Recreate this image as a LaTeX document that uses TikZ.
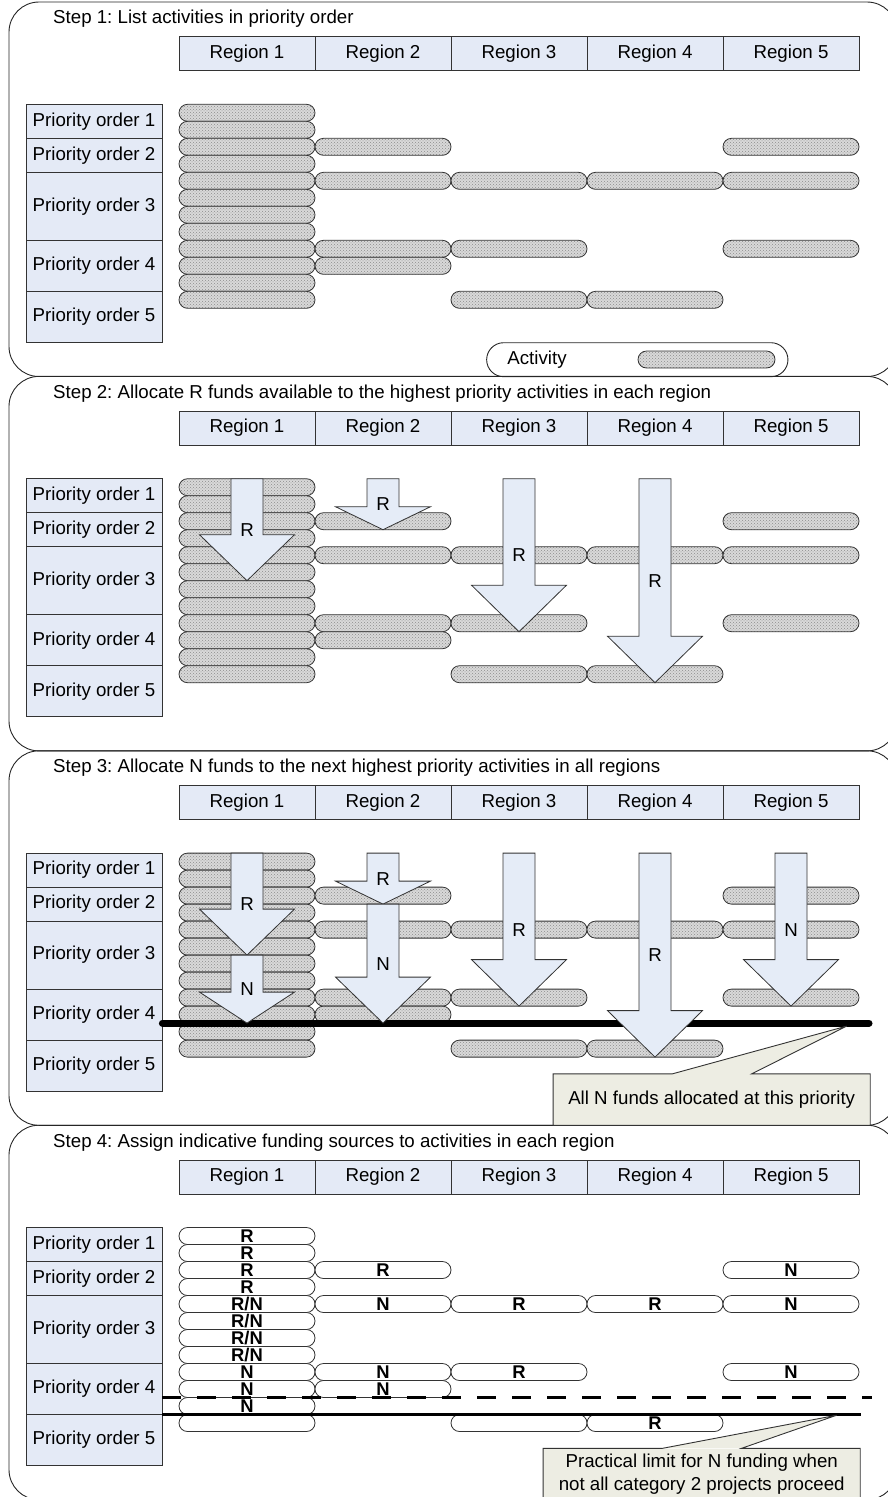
\documentclass[tikz,border=0pt]{standalone}
\usepackage{fontspec}
\setmainfont{Liberation Sans}
\usetikzlibrary{patterns}
\frenchspacing

\definecolor{boxblue}{HTML}{E4EAF6}
\definecolor{arrowblue}{HTML}{E5ECF7}
\definecolor{notebg}{HTML}{EDEDE3}

\tikzset{
  panel/.style={draw=black!85, line width=0.9pt, rounded corners=30pt},
  region/.style={draw=black!80, fill=boxblue, line width=0.8pt,
    minimum width=136pt, minimum height=34pt, inner sep=0pt},
  prio/.style={draw=black!80, fill=boxblue, line width=0.8pt,
    minimum width=136pt, inner sep=0pt},
  act/.style={draw=black!80, line width=0.8pt, rounded corners=8.5pt,
    minimum width=136pt, minimum height=17pt, inner sep=0pt},
  shadedact/.style={act, preaction={fill=gray!30},
    pattern=crosshatch dots, pattern color=gray!90},
  plainact/.style={act, fill=white, font=\fontsize{18.4}{20}\selectfont\bfseries},
  fund/.style={draw=black!80, fill=arrowblue, line width=0.8pt},
  note/.style={fill=notebg, minimum width=316.7pt, minimum height=51pt,
    inner sep=0pt, align=center},
  noteline/.style={draw=black!80, line width=0.9pt}
}

\begin{document}
\begin{tikzpicture}[x=1pt, y=-1pt,
  every node/.style={font=\fontsize{18.7}{22.4}\selectfont}]
\useasboundingbox (0,0) rectangle (887,1497);

% the four steps: frame, title, regions, priority orders, activities
\foreach \p/\steptext in {0/{Step 1: List activities in priority order},
    1/{Step 2: Allocate R funds available to the highest priority activities in each region},
    2/{Step 3: Allocate N funds to the next highest priority activities in all regions},
    3/{Step 4: Assign indicative funding sources to activities in each region}}{
  \begin{scope}[shift={(0,374.4*\p)}]
    \draw[panel] (9,2) rectangle (897,376.5);
    \node[anchor=west, inner sep=0pt] (title\p) at (53,19) {\steptext};
    \foreach \col in {1,...,5}
      \node[region] (reg\p-\col) at ({111+136*\col},53.7) {Region \col};
    \foreach \row/\yc/\hgt in {1/121.3/34, 2/155.3/34, 3/206.3/68, 4/265.8/51, 5/316.8/51}
      \node[prio, minimum height=\hgt pt] (prio\p-\row) at (94,\yc) {Priority order \row};
    \foreach \col/\row/\lab in {1/0/R, 1/1/R, 1/2/R, 1/3/R, 1/4/{R/N}, 1/5/{R/N},
        1/6/{R/N}, 1/7/{R/N}, 1/8/N, 1/9/N, 1/10/N, 1/11/{},
        2/2/R, 2/4/N, 2/8/N, 2/9/N, 3/4/R, 3/8/R, 3/11/{},
        4/4/R, 4/11/R, 5/2/N, 5/4/N, 5/8/N}{
      \ifnum\p<3
        \node[shadedact] (act\p-\col-\row) at ({111+136*\col},{112.8+17*\row}) {};
      \else
        \node[plainact] (act\p-\col-\row) at ({111+136*\col},{112.8+17*\row}) {\lab};
      \fi}
  \end{scope}}

% step 1 legend
\node[draw=black!85, line width=0.9pt, rounded corners=17pt, minimum width=301.3pt,
  minimum height=34pt, inner sep=0pt] (legend) at (637.3,359.7) {};
\node (legendtext) at (537,359.7) {Activity};
\node[shadedact, minimum width=137pt] (legendact) at (706.5,359.5) {};

% step 3 limit of N funds
\coordinate (lim2) at (869,1023.1);
\draw[line width=7pt, line cap=round] (prio2-4.east |- lim2) -- (lim2);

% R funds in steps 2 and 3
\foreach \p in {1,2}{
  \begin{scope}[shift={(0,374.4*\p)}]
    \foreach \col/\ytop/\ybase/\ytip [evaluate=\col as \x using 111+136*\col] in
        {1/104.3/160.3/206.3, 2/104.3/132.3/155.3, 3/104.3/210.8/257.3, 4/104.3/261.8/308.3}{
      \draw[fund] (\x-16,\ytop) -- (\x+16,\ytop) -- (\x+16,\ybase) -- (\x+47.5,\ybase)
        -- (\x,\ytip) -- (\x-47.5,\ybase) -- (\x-16,\ybase) -- cycle;
      \node (fundR\p-\col) at (\x,{(\ytop+\ytip)/2}) {R};}
  \end{scope}}

% N funds in step 3
\begin{scope}[shift={(0,748.8)}]
  \foreach \col/\ytop/\ybase/\ytip [evaluate=\col as \x using 111+136*\col] in
      {1/206.3/243.3/274.3, 2/155.3/228.3/274.3, 5/104.3/210.8/257.3}{
    \draw[fund] (\x-16,\ytop) -- (\x+16,\ytop) -- (\x+16,\ybase) -- (\x+47.5,\ybase)
      -- (\x,\ytip) -- (\x-47.5,\ybase) -- (\x-16,\ybase) -- cycle;
    \node (fundN-\col) at (\x,{(\ytop+\ytip)/2}) {N};}

  \coordinate (tip2) at (846.7,277.3);
  \node[note] (allN) at (711.7,350.8) {All N funds allocated at this priority};
  \fill[notebg] ([xshift=119pt]allN.north west) -- (tip2)
    -- ([xshift=198.4pt]allN.north west) -- cycle;
  \draw[noteline] ([xshift=119pt]allN.north west) -- (tip2) -- ([xshift=198.4pt]allN.north west)
    -- (allN.north east) -- (allN.south east) -- (allN.south west) -- (allN.north west) -- cycle;
\end{scope}

% step 4 limits
\begin{scope}[shift={(0,1123.2)}]
  \coordinate (dash3) at (871.7,274.3);
  \coordinate (lim3) at (860.7,291.3);
  \draw[line width=3.5pt, dash pattern=on 19pt off 16pt] (prio3-4.east |- dash3) -- (dash3);
  \draw[line width=3pt] (prio3-4.east |- lim3) -- (lim3);

  \coordinate (tip3) at (836.7,292);
  \node[note] (practical) at (701.7,350.8)
    {Practical limit for N funding when\\not all category 2 projects proceed};
  \fill[notebg] ([xshift=119.4pt]practical.north west) -- (tip3)
    -- ([xshift=198.4pt]practical.north west) -- cycle;
  \draw[noteline] ([xshift=119.4pt]practical.north west) -- (tip3)
    -- ([xshift=198.4pt]practical.north west) -- (practical.north east)
    -- (practical.south east) -- (practical.south west) -- (practical.north west) -- cycle;
\end{scope}

\end{tikzpicture}
\end{document}
